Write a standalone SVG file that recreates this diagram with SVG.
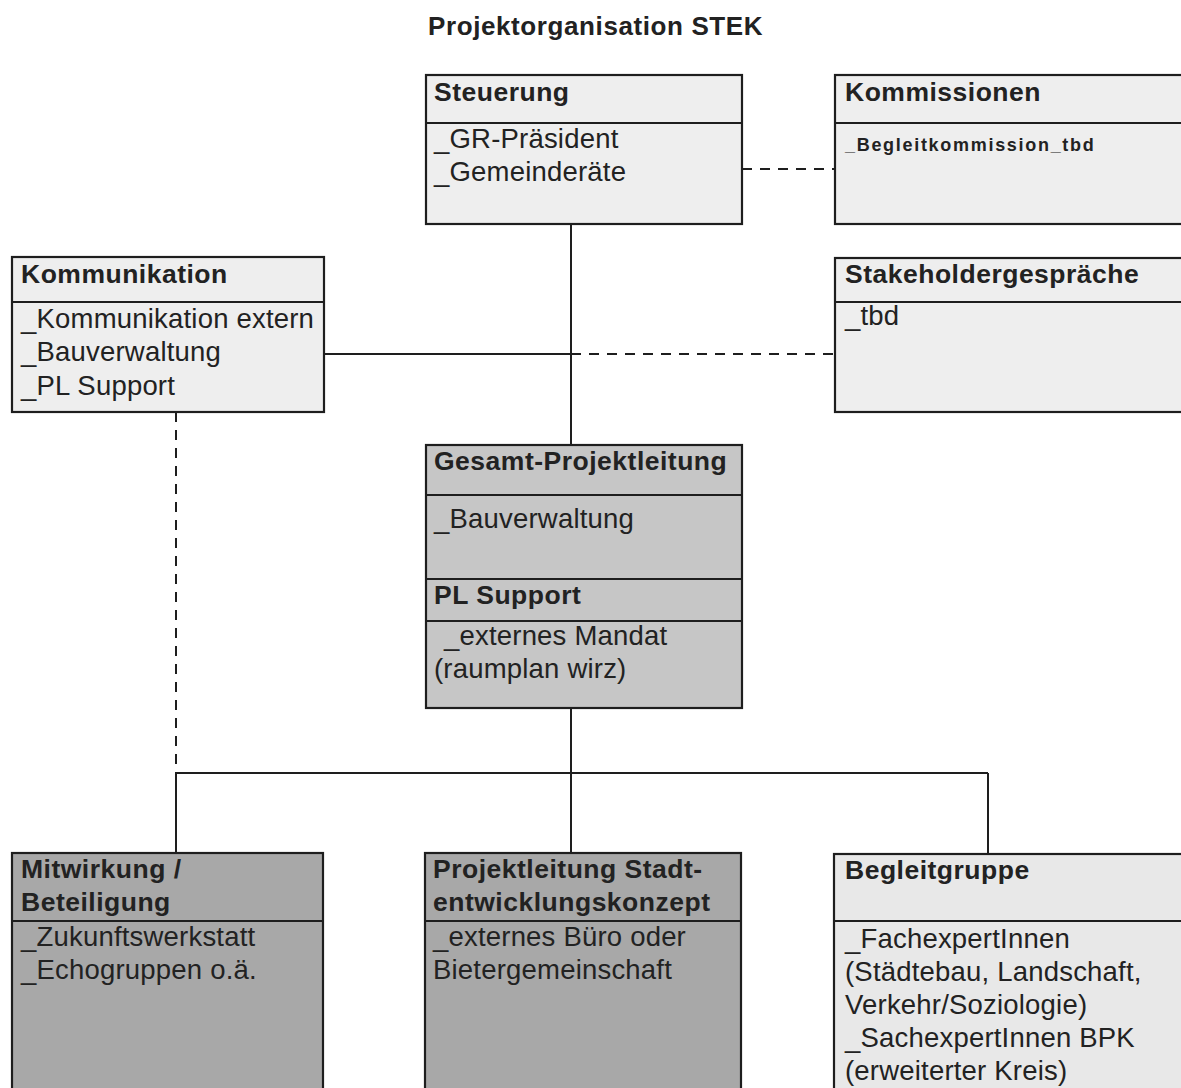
<svg xmlns="http://www.w3.org/2000/svg" width="1181" height="1088" viewBox="0 0 1181 1088">
<style>
.box{stroke:#1e1e1e;stroke-width:2.2}
.light{fill:#eeeeee}
.mid{fill:#c6c6c6}
.dark{fill:#a8a8a8}
.div{stroke:#1e1e1e;stroke-width:2.2;fill:none}
.h{font-family:"Liberation Sans",Arial,sans-serif;font-weight:bold;font-size:26.5px;fill:#222;letter-spacing:0.5px}
.t{font-family:"Liberation Sans",Arial,sans-serif;font-size:27.5px;fill:#222;letter-spacing:0.2px}
.s{font-family:"Liberation Sans",Arial,sans-serif;font-weight:bold;font-size:18px;fill:#222;letter-spacing:1.7px}
.ln{stroke:#1e1e1e;stroke-width:2;fill:none}
.dash{stroke:#1e1e1e;stroke-width:2;fill:none;stroke-dasharray:10 8}
</style>
<rect width="1181" height="1088" fill="#ffffff"/>
<text x="428" y="35" class="h" style="letter-spacing:0.6px;font-size:26px">Projektorganisation STEK</text>

<g id="connectors">
  <line class="ln" x1="571" y1="224" x2="571" y2="445"/>
  <line class="ln" x1="324" y1="354" x2="571" y2="354"/>
  <line class="dash" x1="571" y1="354" x2="835" y2="354"/>
  <line class="dash" x1="742" y1="169" x2="835" y2="169"/>
  <line class="dash" x1="176" y1="412" x2="176" y2="773"/>
  <line class="ln" x1="571" y1="708" x2="571" y2="853"/>
  <line class="ln" x1="176" y1="773" x2="988" y2="773"/>
  <line class="ln" x1="176" y1="773" x2="176" y2="853"/>
  <line class="ln" x1="988" y1="773" x2="988" y2="854"/>
</g>

<g id="steuerung">
  <rect class="box light" x="426" y="75" width="316" height="149"/>
  <line class="div" x1="426" y1="123" x2="742" y2="123"/>
  <text x="434" y="101" class="h">Steuerung</text>
  <text x="434" y="148" class="t">_GR-Präsident</text>
  <text x="434" y="181" class="t">_Gemeinderäte</text>
</g>

<g id="kommissionen">
  <rect class="box light" x="835" y="75" width="360" height="149"/>
  <line class="div" x1="835" y1="123" x2="1195" y2="123"/>
  <text x="845" y="101" class="h">Kommissionen</text>
  <text x="845" y="151" class="s">_Begleitkommission_tbd</text>
</g>

<g id="kommunikation">
  <rect class="box light" x="12" y="257" width="312" height="155"/>
  <line class="div" x1="12" y1="302" x2="324" y2="302"/>
  <text x="21" y="283" class="h">Kommunikation</text>
  <text x="21" y="328" class="t">_Kommunikation extern</text>
  <text x="21" y="361" class="t">_Bauverwaltung</text>
  <text x="21" y="395" class="t">_PL Support</text>
</g>

<g id="stakeholder">
  <rect class="box light" x="835" y="258" width="360" height="154"/>
  <line class="div" x1="835" y1="302" x2="1195" y2="302"/>
  <text x="845" y="283" class="h">Stakeholdergespräche</text>
  <text x="845" y="325" class="t">_tbd</text>
</g>

<g id="gesamtprojektleitung">
  <rect class="box mid" x="426" y="445" width="316" height="263"/>
  <line class="div" x1="426" y1="495" x2="742" y2="495"/>
  <line class="div" x1="426" y1="579" x2="742" y2="579"/>
  <line class="div" x1="426" y1="621" x2="742" y2="621"/>
  <text x="434" y="470" class="h">Gesamt-Projektleitung</text>
  <text x="434" y="528" class="t">_Bauverwaltung</text>
  <text x="434" y="604" class="h">PL Support</text>
  <text x="444" y="645" class="t">_externes Mandat</text>
  <text x="434" y="678" class="t">(raumplan wirz)</text>
</g>

<g id="mitwirkung">
  <rect class="box dark" x="12" y="853" width="311" height="250"/>
  <line class="div" x1="12" y1="921" x2="323" y2="921"/>
  <text x="21" y="878" class="h">Mitwirkung /</text>
  <text x="21" y="911" class="h">Beteiligung</text>
  <text x="21" y="946" class="t">_Zukunftswerkstatt</text>
  <text x="21" y="979" class="t">_Echogruppen o.ä.</text>
</g>

<g id="projektleitung-stek">
  <rect class="box dark" x="425" y="853" width="316" height="250"/>
  <line class="div" x1="425" y1="921" x2="741" y2="921"/>
  <text x="433" y="878" class="h">Projektleitung Stadt-</text>
  <text x="433" y="911" class="h">entwicklungskonzept</text>
  <text x="433" y="946" class="t">_externes Büro oder</text>
  <text x="433" y="979" class="t">Bietergemeinschaft</text>
</g>

<g id="begleitgruppe">
  <rect class="box light" x="834" y="854" width="360" height="250" style="fill:#e8e8e8"/>
  <line class="div" x1="834" y1="921" x2="1194" y2="921"/>
  <text x="845" y="879" class="h">Begleitgruppe</text>
  <text x="845" y="948" class="t">_FachexpertInnen</text>
  <text x="845" y="981" class="t">(Städtebau, Landschaft,</text>
  <text x="845" y="1014" class="t">Verkehr/Soziologie)</text>
  <text x="845" y="1047" class="t">_SachexpertInnen BPK</text>
  <text x="845" y="1080" class="t">(erweiterter Kreis)</text>
</g>
</svg>
